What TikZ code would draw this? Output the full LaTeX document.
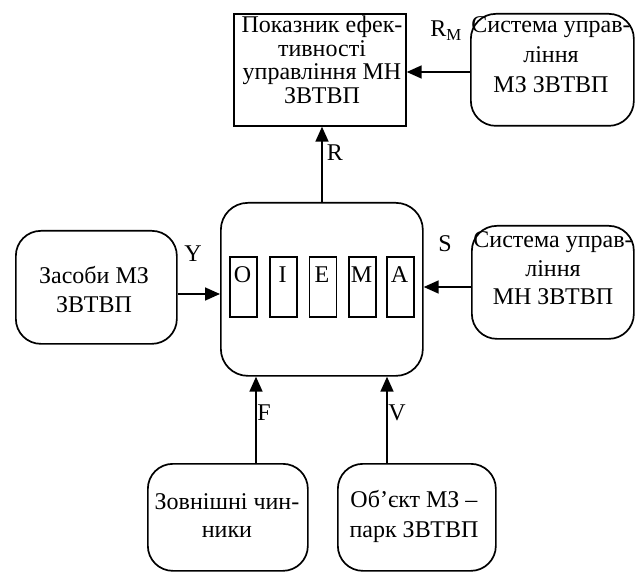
\documentclass[tikz,border=0pt]{standalone}
\usepackage{fontspec}
\setmainfont{Liberation Serif}
\usetikzlibrary{arrows.meta}
\begin{document}
\begin{tikzpicture}[x=1pt,y=-1pt,
  every node/.style={font=\fontsize{24}{24}\selectfont},
  box/.style={draw,line width=1.7pt,inner sep=0pt,anchor=north west},
  rbox/.style={box,rounded corners=25pt},
  cell/.style={draw,line width=1.7pt,inner sep=0pt,minimum width=27pt,minimum height=60pt,anchor=north west},
  txt/.style={align=center,inner sep=0pt,anchor=north},
  lbl/.style={inner sep=0pt,anchor=base},
  arr/.style={line width=1.7pt,-{Triangle[length=15pt,width=13pt]}}]
\useasboundingbox (0,0) rectangle (635,572);

% boxes
\node[box,minimum width=172pt,minimum height=112pt] (kpi) at (233,13) {};
\node[rbox,minimum width=163pt,minimum height=112pt] (smz) at (470,13) {};
\node[rbox,minimum width=202pt,minimum height=173pt,rounded corners=27pt] (sys) at (220,202) {};
\node[rbox,minimum width=161pt,minimum height=113pt] (zas) at (15,230) {};
\node[rbox,minimum width=162pt,minimum height=113pt] (smn) at (471,225) {};
\node[rbox,minimum width=160pt,minimum height=107pt] (zov) at (147,463) {};
\node[rbox,minimum width=158pt,minimum height=107pt] (obj) at (337,463) {};

% inner cells of the system block
\node[cell] (cO) at (229,256) {};
\node[cell] (cI) at (269,256) {};
\node[cell] (cE) at (308.5,256) {};
\node[cell] (cM) at (348,256) {};
\node[cell] (cA) at (386,256) {};
\node[lbl] (lO) at (242.5,283) {O};
\node[lbl] (lI) at (282.5,283) {I};
\node[lbl] (lE) at (322,283) {E};
\node[lbl] (lM) at (361.5,283) {M};
\node[lbl] (lA) at (399.5,283) {A};

% box texts
\node[txt,font=\fontsize{24}{23.7}\selectfont] (tkpi) at (322,15.5)
  {Показник ефек-\\тивності\\управління МН\\ЗВТВП};
\node[txt,font=\fontsize{24}{30}\selectfont] (tsmz) at (551,16.5)
  {Система управ-\\ління\\МЗ ЗВТВП};
\node[txt,font=\fontsize{24}{28.5}\selectfont] (tsmn) at (553,231.5)
  {Система управ-\\ління\\МН ЗВТВП};
\node[txt,font=\fontsize{24}{29}\selectfont] (tzas) at (94,266.5)
  {Засоби МЗ\\ЗВТВП};
\node[txt,font=\fontsize{24}{28}\selectfont] (tzov) at (227,493.5)
  {Зовнішні чин-\\ники};
\node[txt,font=\fontsize{24}{30}\selectfont] (tobj) at (414,490.5)
  {Об’єкт МЗ –\\парк ЗВТВП};

% connector lines
\coordinate (xR) at (322,0);
\coordinate (yRM) at (0,72);
\coordinate (yY) at (0,294);
\coordinate (yS) at (0,287);
\coordinate (xF) at (256,0);
\coordinate (xV) at (387,0);
\draw[arr] (sys.north -| xR) -- (kpi.south -| xR);
\draw[arr] (smz.west |- yRM) -- (kpi.east |- yRM);
\draw[arr] (zas.east |- yY) -- (sys.west |- yY);
\draw[arr] (smn.west |- yS) -- (sys.east |- yS);
\draw[arr] (zov.north -| xF) -- (sys.south -| xF);
\draw[arr] (obj.north -| xV) -- (sys.south -| xV);

% signal labels
\node[lbl] (lR) at (335,161) {R};
\node[lbl] (lRM) at (446,37) {R\textsubscript{M}};
\node[lbl] (lY) at (193,262) {Y};
\node[lbl] (lS) at (445,252) {S};
\node[lbl] (lF) at (264,420) {F};
\node[lbl] (lV) at (397,420) {V};
\end{tikzpicture}
\end{document}
